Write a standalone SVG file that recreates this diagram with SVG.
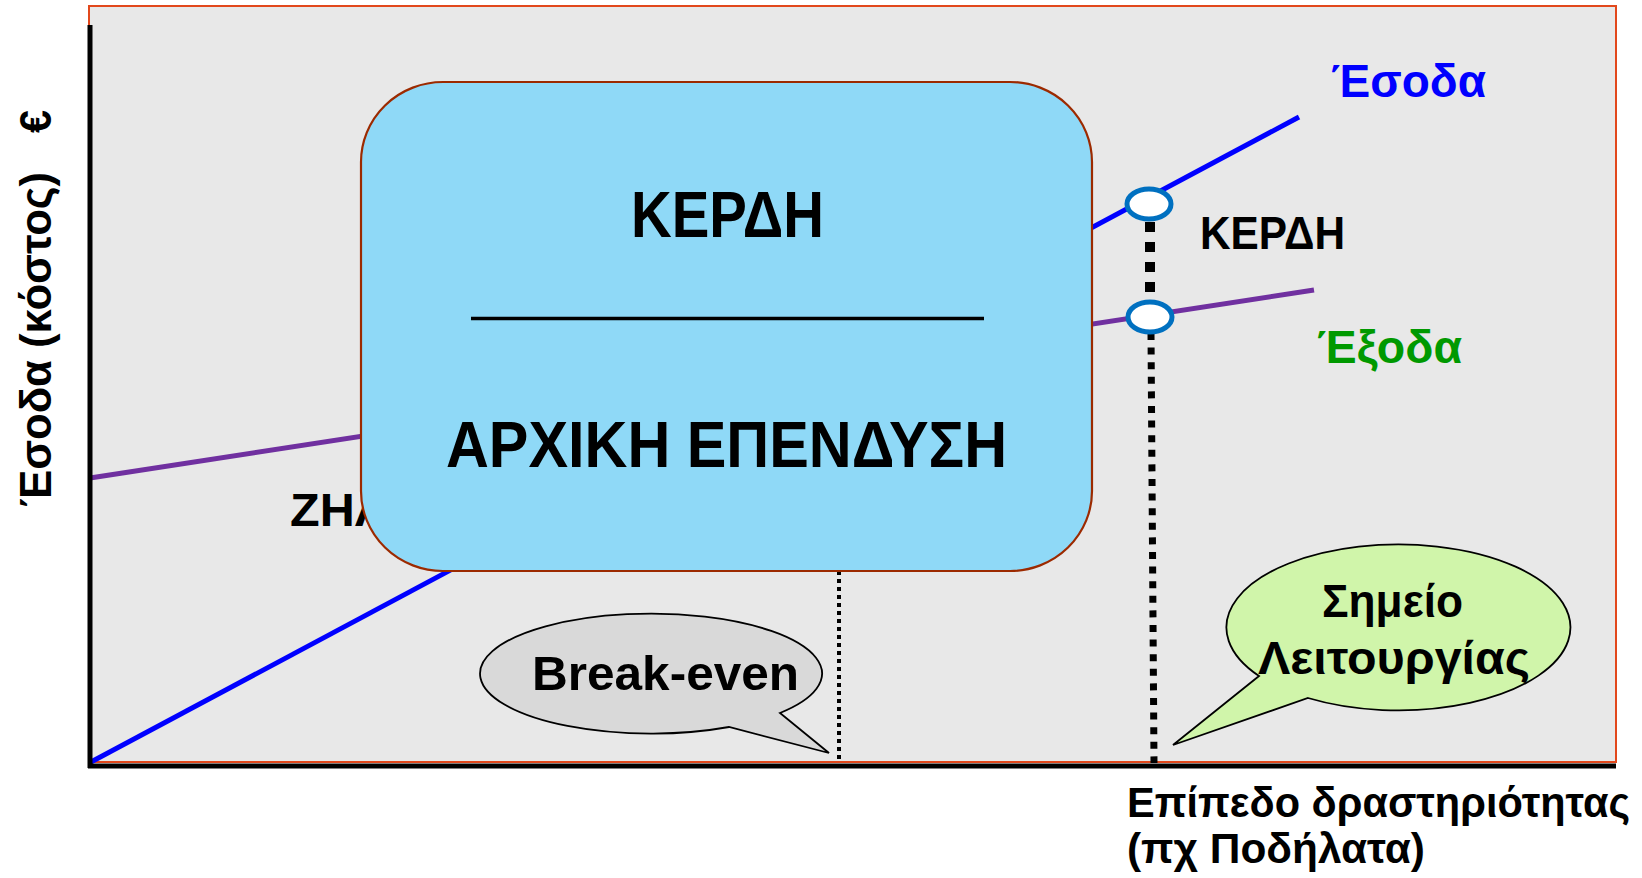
<svg xmlns="http://www.w3.org/2000/svg" width="1642" height="878" viewBox="0 0 1642 878">
  <style>
    .t { font-family: "Liberation Sans", "DejaVu Sans", Arial, sans-serif; font-weight: bold; }
    .blk { fill: #000000; }
    .curve { fill: none; stroke-width: 5; stroke-linecap: butt; }
    .pt { fill: #ffffff; stroke: #0070c0; stroke-width: 5; }
    .callout { stroke: #000000; stroke-width: 1.8; stroke-linejoin: miter; }
  </style>
  <rect x="0" y="0" width="1642" height="878" fill="#ffffff"/>

  <g id="plot-area">
    <rect x="89" y="6" width="1527" height="756" fill="#e8e8e8" stroke="#e2481c" stroke-width="2"/>
  </g>

  <g id="connectors">
    <line id="revenue-line" class="curve" x1="91" y1="762" x2="1299" y2="117" stroke="#0000ff"/>
    <line id="cost-line" class="curve" x1="90" y1="478" x2="1314" y2="290" stroke="#7030a0"/>
    <line id="breakeven-drop" x1="839" y1="571" x2="839" y2="762" stroke="#000000" stroke-width="4" stroke-dasharray="4 4"/>
    <line id="profit-gap" x1="1150" y1="222" x2="1150" y2="300" stroke="#000000" stroke-width="10" stroke-dasharray="10 10"/>
    <line id="operation-drop" x1="1151" y1="333" x2="1154" y2="763" stroke="#000000" stroke-width="7" stroke-dasharray="7 7.6"/>
  </g>

  <g id="axes">
    <line x1="90" y1="25" x2="90" y2="768" stroke="#000000" stroke-width="5"/>
    <line x1="88" y1="766" x2="1616" y2="766" stroke="#000000" stroke-width="5"/>
  </g>

  <g id="loss-label">
    <text class="t blk" x="290" y="526" font-size="46" textLength="97" lengthAdjust="spacingAndGlyphs">ΖΗΛ</text>
  </g>

  <g id="ratio-box">
    <rect x="361" y="82" width="731" height="489" rx="82" ry="80" fill="#8fd9f7" stroke="#9c2a00" stroke-width="2.2"/>
    <text class="t blk" x="727.5" y="237" font-size="64" text-anchor="middle" textLength="193" lengthAdjust="spacingAndGlyphs">ΚΕΡΔΗ</text>
    <line x1="471" y1="318.5" x2="984" y2="318.5" stroke="#000000" stroke-width="3.5"/>
    <text class="t blk" x="726.5" y="467" font-size="64" text-anchor="middle" textLength="561" lengthAdjust="spacingAndGlyphs">ΑΡΧΙΚΗ ΕΠΕΝΔΥΣΗ</text>
  </g>

  <g id="points">
    <ellipse id="revenue-point" class="pt" cx="1149" cy="204" rx="22" ry="15"/>
    <ellipse id="cost-point" class="pt" cx="1150" cy="317" rx="22" ry="15"/>
  </g>

  <g id="profit-label">
    <text class="t blk" x="1200" y="249" font-size="47" textLength="145" lengthAdjust="spacingAndGlyphs">ΚΕΡΔΗ</text>
  </g>

  <g id="revenue-label">
    <text class="t" x="1331" y="97" font-size="47" fill="#0000ff" textLength="155" lengthAdjust="spacingAndGlyphs">Έσοδα</text>
  </g>

  <g id="cost-label">
    <text class="t" x="1317" y="363" font-size="47" fill="#009900" textLength="145" lengthAdjust="spacingAndGlyphs">Έξοδα</text>
  </g>

  <g id="breakeven-callout">
    <path class="callout" fill="#d9d9d9" d="M 729 727 A 171 60 0 1 1 780 713 L 829 753 Z"/>
    <text class="t blk" x="532" y="690" font-size="48" textLength="267" lengthAdjust="spacingAndGlyphs">Break-even</text>
  </g>

  <g id="operation-callout">
    <path class="callout" fill="#d0f5aa" d="M 1259 676 A 172 83 0 1 1 1308 698 L 1173 745 Z"/>
    <text class="t blk" x="1392.5" y="617" font-size="46" text-anchor="middle" textLength="141" lengthAdjust="spacingAndGlyphs">Σημείο</text>
    <text class="t blk" x="1394" y="674" font-size="46" text-anchor="middle" textLength="272" lengthAdjust="spacingAndGlyphs">Λειτουργίας</text>
  </g>

  <g id="x-axis-label">
    <text class="t blk" x="1127" y="817" font-size="42" textLength="503" lengthAdjust="spacingAndGlyphs">Επίπεδο δραστηριότητας</text>
    <text class="t blk" x="1127" y="863" font-size="42" textLength="298" lengthAdjust="spacingAndGlyphs">(πχ Ποδήλατα)</text>
  </g>

  <g id="y-axis-label" transform="translate(51,507) rotate(-90)">
    <text class="t blk" x="0" y="0" font-size="44"><tspan textLength="335" lengthAdjust="spacingAndGlyphs">Έσοδα (κόστος)</tspan> <tspan x="374" textLength="23" lengthAdjust="spacingAndGlyphs">€</tspan></text>
  </g>
</svg>
